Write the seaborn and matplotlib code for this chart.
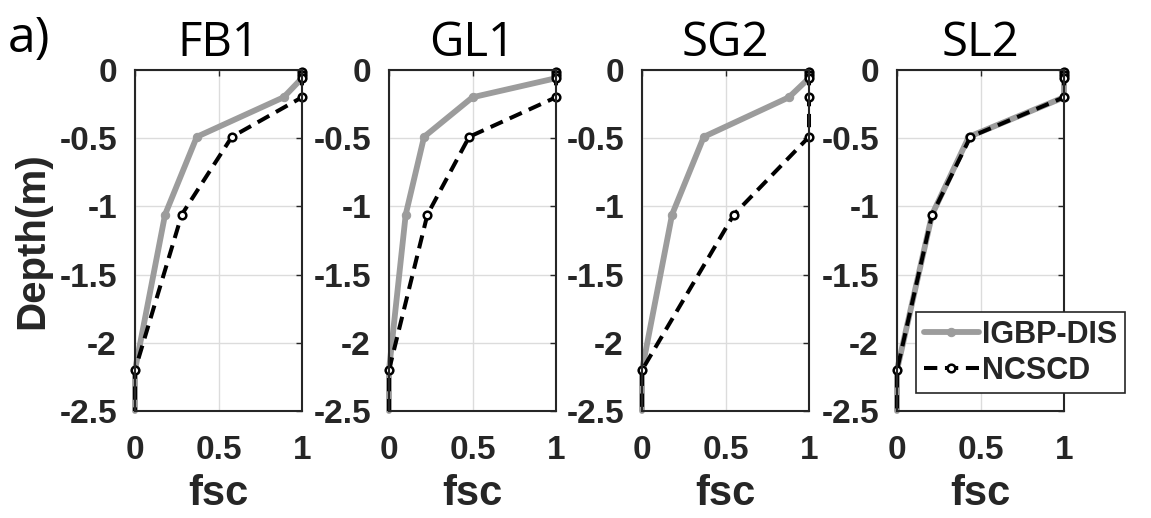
import matplotlib
matplotlib.use("Agg")
import matplotlib.pyplot as plt
import seaborn as sns
import numpy as np

sns.set_theme(style="white")
plt.rcParams["font.family"] = ["Liberation Sans", "DejaVu Sans"]
plt.rcParams["axes.unicode_minus"] = False

# Soil layer node depths (m) and carbon fraction profiles for each site
depth = [-0.015, -0.035, -0.06, -0.2, -0.49, -1.06, -2.2, -2.5]
sites = ["FB1", "GL1", "SG2", "SL2"]
igbp_fb1 = [1.0, 1.0, 1.0, 0.89, 0.37, 0.18, 0.0, 0.0]
igbp_gl1 = [1.0, 1.0, 1.0, 0.50, 0.21, 0.10, 0.0, 0.0]
igbp_sg2 = [1.0, 1.0, 1.0, 0.88, 0.37, 0.18, 0.0, 0.0]
igbp_sl2 = [1.0, 1.0, 1.0, 1.0, 0.43, 0.21, 0.0, 0.0]
ncscd_fb1 = [1.0, 1.0, 1.0, 1.0, 0.58, 0.28, 0.0, 0.0]
ncscd_gl1 = [1.0, 1.0, 1.0, 1.0, 0.48, 0.23, 0.0, 0.0]
ncscd_sg2 = [1.0, 1.0, 1.0, 1.0, 1.0, 0.55, 0.0, 0.0]
ncscd_sl2 = [1.0, 1.0, 1.0, 1.0, 0.44, 0.21, 0.0, 0.0]
igbp = [igbp_fb1, igbp_gl1, igbp_sg2, igbp_sl2]
ncscd = [ncscd_fb1, ncscd_gl1, ncscd_sg2, ncscd_sl2]

yticks = [0, -0.5, -1, -1.5, -2, -2.5]
ytick_labels = ["0", "-0.5", "-1", "-1.5", "-2", "-2.5"]
xticks = [0, 0.5, 1]
xtick_labels = ["0", "0.5", "1"]

W, H = 1151, 518
fig = plt.figure(figsize=(W / 100, H / 100), dpi=100)

lefts = [135, 389, 642, 897]
ax_w, ax_top, ax_bot = 167, 70, 411

title_font = ["Open Sans", "DejaVu Sans"]
gray = "#9c9c9c"
ink = "#262626"
# markers on every layer node except the profile's bottom end
node_marks = list(range(len(depth) - 1))

axes = []
for i, name in enumerate(sites):
    ax = fig.add_axes([lefts[i] / W, (H - ax_bot) / H, ax_w / W, (ax_bot - ax_top) / H])
    axes.append(ax)
    ax.grid(True, color="#dcdcdc", linewidth=1.0, zorder=0)
    ax.set_axisbelow(True)

    sns.lineplot(x=igbp[i], y=depth, sort=False, estimator=None, ax=ax,
                 color=gray, linewidth=4.2, marker="o", markersize=6,
                 markeredgecolor=gray, markerfacecolor=gray, markevery=node_marks,
                 label="IGBP-DIS", legend=False, zorder=3, clip_on=False)
    sns.lineplot(x=ncscd[i], y=depth, sort=False, estimator=None, ax=ax,
                 color="black", linewidth=2.9, linestyle=(0, (3.3, 1.9)),
                 marker="o", markersize=5.5, markerfacecolor="white",
                 markeredgecolor="black", markeredgewidth=1.8, markevery=node_marks,
                 label="NCSCD", legend=False, zorder=4, clip_on=False)

    ax.set_xlim(0, 1)
    ax.set_ylim(-2.5, 0)
    ax.set_xticks(xticks)
    ax.set_xticklabels(xtick_labels)
    ax.set_yticks(yticks)
    ax.set_yticklabels(ytick_labels)
    ax.tick_params(direction="in", length=4, width=1, top=True, right=True,
                   labelsize=24, colors=ink)
    ax.tick_params(axis="y", pad=13)
    ax.tick_params(axis="x", pad=17)
    for lab in ax.get_xticklabels() + ax.get_yticklabels():
        lab.set_fontweight("bold")
    for sp in ax.spines.values():
        sp.set_visible(True)
        sp.set_color(ink)
        sp.set_linewidth(1.5)
        sp.set_zorder(5)
    ax.set_xlabel("fsc", fontsize=30, fontweight="bold", color=ink, labelpad=6)
    ax.set_ylabel("")
    ax.set_title(name, fontsize=34, family=title_font, color="black", pad=10)

axes[0].set_ylabel("Depth(m)", fontsize=29, fontweight="bold", color=ink, labelpad=6)

handles, labels = axes[3].get_legend_handles_labels()
leg = axes[3].legend(handles, labels, loc="upper left",
                     bbox_to_anchor=((916 - 897) / ax_w, (411 - 312) / (411 - 70)),
                     prop={"size": 22, "weight": "bold"}, frameon=True,
                     fancybox=False, edgecolor=ink, framealpha=1,
                     handlelength=1.8, handletextpad=0.1, borderpad=0.25,
                     labelspacing=0.2, borderaxespad=0)
leg.get_frame().set_linewidth(1.2)
leg.set_zorder(10)

fig.text(8 / W, (H - 52) / H, "a)", fontsize=36, family=title_font, color="black",
         ha="left", va="baseline")

fig.savefig("out.png", dpi=100)
